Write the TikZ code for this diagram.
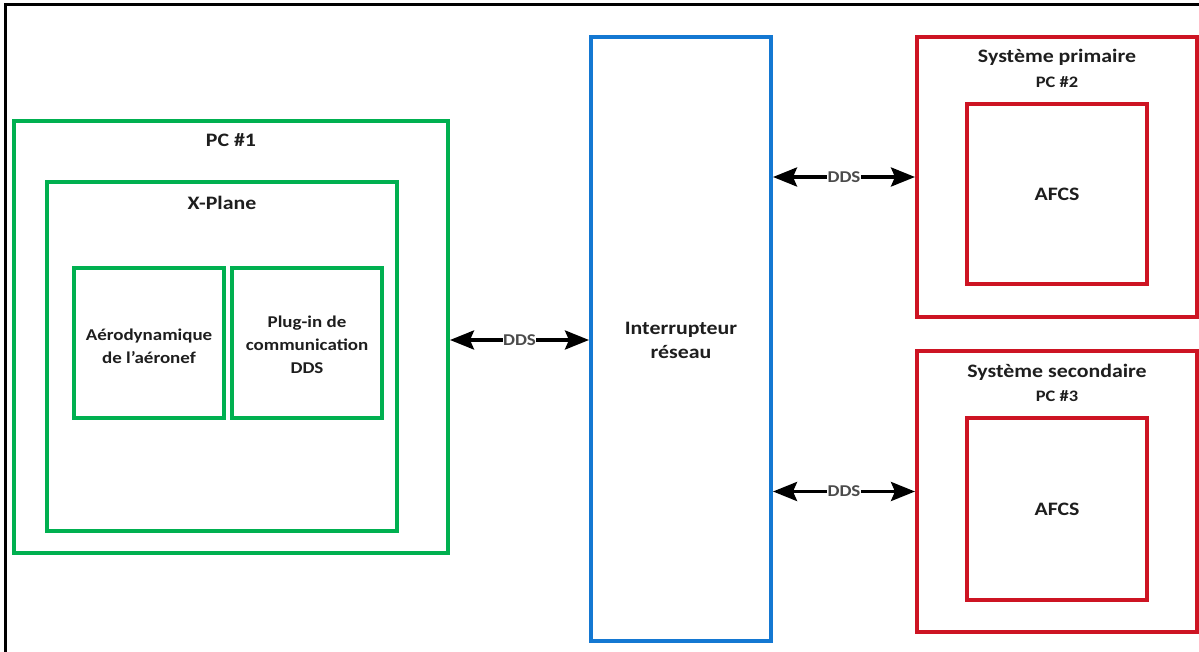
\documentclass[tikz,border=0pt]{standalone}
\usepackage{fontspec}
\setmainfont{Carlito}[FakeStretch=1.15]
\usetikzlibrary{arrows.meta}
\definecolor{boxgreen}{RGB}{0,176,80}
\definecolor{boxblue}{RGB}{20,120,210}
\definecolor{boxred}{RGB}{205,20,35}
\definecolor{txt}{RGB}{30,30,30}
\tikzset{
  gbox/.style={draw=boxgreen, line width=4pt, rectangle, inner sep=0pt},
  bbox/.style={draw=boxblue, line width=4pt, rectangle, inner sep=0pt},
  rbox/.style={draw=boxred, line width=4pt, rectangle, inner sep=0pt},
  ttl/.style={font=\bfseries\fontsize{19}{24}\selectfont, text=txt, align=center, inner sep=0pt},
  sub/.style={font=\bfseries\fontsize{16}{18}\selectfont, text=txt, align=center, inner sep=0pt},
  inn/.style={font=\bfseries\fontsize{16.5}{23}\selectfont, text=txt, align=center, inner sep=0pt},
  link/.style={line width=3.5pt, {Stealth[length=24pt,width=19pt,inset=4pt]}-{Stealth[length=24pt,width=19pt,inset=4pt]}},
  lbl/.style={font=\bfseries\fontsize{16.5}{17}\selectfont, text=txt!80, fill=white, inner sep=0.5pt}
}
\begin{document}
\begin{tikzpicture}[x=1pt,y=-1pt]
\useasboundingbox (0,0) rectangle (1199,652);
\fill[white] (0,0) rectangle (1199,652);
% frame
\coordinate (fr1) at (5,652);
\coordinate (fr2) at (5,5);
\coordinate (fr3) at (1199,5);
\draw[line width=3pt, line cap=rect] (fr1) -- (fr2) -- (fr3);
% PC #1
\node[gbox, minimum width=434pt, minimum height=432pt] (pc1) at (231,337) {};
\node[ttl] (pc1t) at (231,140) {PC \#1};
\node[gbox, minimum width=350pt, minimum height=349pt] (xp) at (222,356.5) {};
\node[ttl] (xpt) at (222,203) {X-Plane};
\node[gbox, minimum width=150pt, minimum height=150pt] (aero) at (149,343) {};
\node[inn] (aerot) at (149,346) {Aérodynamique\\de l’aéronef};
\node[gbox, minimum width=150pt, minimum height=150pt] (plug) at (307,343) {};
\node[inn] (plugt) at (307,345) {Plug-in de\\communication\\DDS};
% switch
\node[bbox, minimum width=180pt, minimum height=604pt] (sw) at (681,339) {};
\node[ttl] (swt) at (681,340) {Interrupteur\\réseau};
% primary
\node[rbox, minimum width=280pt, minimum height=280pt] (prim) at (1057,177) {};
\node[ttl] (primt) at (1057,57) {Système primaire};
\node[sub] (primpc) at (1057,82) {PC \#2};
\node[rbox, minimum width=180pt, minimum height=180pt] (afcs1) at (1057,194) {};
\node[ttl] (afcs1t) at (afcs1) {AFCS};
% secondary
\node[rbox, minimum width=280pt, minimum height=281pt] (sec) at (1057,491.5) {};
\node[ttl] (sect) at (1057,372) {Système secondaire};
\node[sub] (secpc) at (1057,396) {PC \#3};
\node[rbox, minimum width=180pt, minimum height=182pt] (afcs2) at (1057,509) {};
\node[ttl] (afcs2t) at (afcs2) {AFCS};
% links
\draw[link] (pc1.east |- 0,340) -- (sw.west |- 0,340) node[lbl, midway] {DDS};
\draw[link] (sw.east |- prim.west) -- (prim.west) node[lbl, midway] {DDS};
\draw[link] (sw.east |- sec.west) -- (sec.west) node[lbl, midway] {DDS};
\end{tikzpicture}
\end{document}
